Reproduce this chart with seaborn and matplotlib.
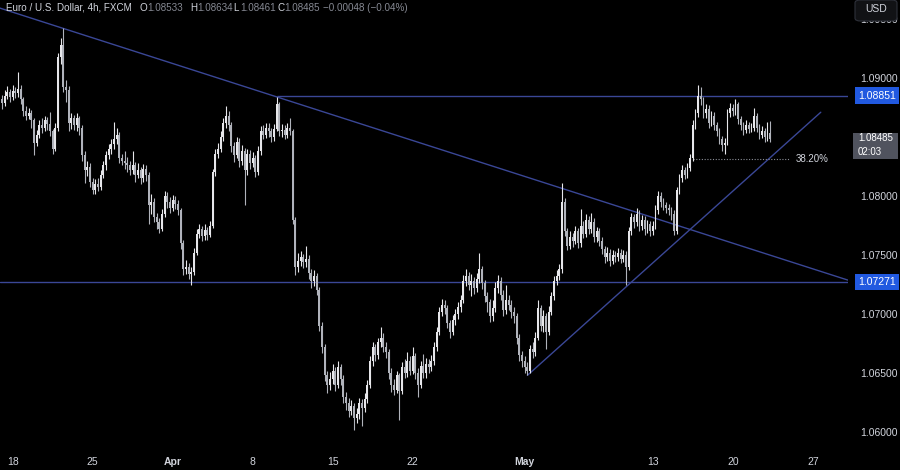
import matplotlib
matplotlib.use("Agg")
import matplotlib.pyplot as plt
import matplotlib.transforms as mtransforms
from matplotlib.patches import Rectangle, FancyBboxPatch
import numpy as np
import seaborn as sns


# DADOS (EUR/USD 4h, FXCM)

first_open = 1.0882

closes = [
    1.0879, 1.0885, 1.0888, 1.0884, 1.0889, 1.0887, 1.0891, 1.0882, 1.0872, 1.0868,
    1.0870, 1.0864, 1.0845, 1.0852, 1.0860, 1.0858, 1.0864, 1.0861, 1.0855, 1.0840,
    1.0858, 1.0918, 1.0928, 1.0892, 1.0890, 1.0862, 1.0866, 1.0860, 1.0866, 1.0858,
    1.0835, 1.0822, 1.0825, 1.0812, 1.0805, 1.0810, 1.0808, 1.0818, 1.0826, 1.0835,
    1.0840, 1.0844, 1.0848, 1.0852, 1.0832, 1.0830, 1.0828, 1.0826, 1.0822, 1.0826,
    1.0818, 1.0822, 1.0815, 1.0823, 1.0818, 1.0792, 1.0795, 1.0782, 1.0778, 1.0772,
    1.0785, 1.0800, 1.0795, 1.0790, 1.0797, 1.0793, 1.0788, 1.0760, 1.0738, 1.0740,
    1.0734, 1.0736, 1.0752, 1.0768, 1.0772, 1.0766, 1.0771, 1.0767, 1.0775, 1.0820,
    1.0836, 1.0840, 1.0850, 1.0862, 1.0868, 1.0860, 1.0842, 1.0835, 1.0846, 1.0830,
    1.0838, 1.0822, 1.0836, 1.0828, 1.0832, 1.0820, 1.0838, 1.0855, 1.0852, 1.0858,
    1.0855, 1.0850, 1.0857, 1.0878, 1.0855, 1.0856, 1.0852, 1.0858, 1.0855, 1.0780,
    1.0740, 1.0745, 1.0748, 1.0744, 1.0747, 1.0735, 1.0728, 1.0732, 1.0720, 1.0690,
    1.0672, 1.0648, 1.0640, 1.0645, 1.0652, 1.0640, 1.0655, 1.0645, 1.0630, 1.0625,
    1.0618, 1.0622, 1.0612, 1.0615, 1.0625, 1.0620, 1.0628, 1.0640, 1.0660, 1.0672,
    1.0665, 1.0676, 1.0680, 1.0672, 1.0668, 1.0650, 1.0640, 1.0636, 1.0648, 1.0635,
    1.0655, 1.0650, 1.0660, 1.0652, 1.0664, 1.0650, 1.0640, 1.0656, 1.0650, 1.0658,
    1.0655, 1.0660, 1.0672, 1.0685, 1.0702, 1.0708, 1.0705, 1.0692, 1.0685, 1.0695,
    1.0700, 1.0706, 1.0712, 1.0728, 1.0732, 1.0725, 1.0728, 1.0722, 1.0730, 1.0738,
    1.0726, 1.0715, 1.0710, 1.0698, 1.0705, 1.0722, 1.0728, 1.0716, 1.0703, 1.0712,
    1.0708, 1.0702, 1.0698, 1.0680, 1.0665, 1.0660, 1.0655, 1.0652, 1.0670, 1.0668,
    1.0680, 1.0705, 1.0690, 1.0698, 1.0685, 1.0702, 1.0715, 1.0728, 1.0732, 1.0738,
    1.0795, 1.0770, 1.0758, 1.0765, 1.0762, 1.0770, 1.0760, 1.0775, 1.0768, 1.0780,
    1.0772, 1.0778, 1.0765, 1.0770, 1.0762, 1.0755, 1.0748, 1.0752, 1.0745, 1.0750,
    1.0748, 1.0752, 1.0747, 1.0750, 1.0740, 1.0770, 1.0782, 1.0778, 1.0785, 1.0775,
    1.0780, 1.0772, 1.0776, 1.0770, 1.0775, 1.0788, 1.0800, 1.0795, 1.0792, 1.0790,
    1.0788, 1.0785, 1.0770, 1.0805, 1.0815, 1.0822, 1.0818, 1.0824, 1.0832, 1.0860,
    1.0870, 1.0885, 1.0882, 1.0870, 1.0874, 1.0862, 1.0868, 1.0860, 1.0855, 1.0848,
    1.0843, 1.0845, 1.0870, 1.0875, 1.0872, 1.0878, 1.0865, 1.0860, 1.0856, 1.0860,
    1.0857, 1.0858, 1.0868, 1.0858, 1.0852, 1.0855, 1.0850, 1.08533, 1.08485,
]

highs = [
    1.0886, 1.0890, 1.0893, 1.0891, 1.0894, 1.0892, 1.0905, 1.0894, 1.0884, 1.0876,
    1.0875, 1.0873, 1.0866, 1.0856, 1.0864, 1.0866, 1.0868, 1.0867, 1.0871, 1.0857,
    1.0862, 1.0921, 1.0934, 1.0942, 1.0898, 1.0893, 1.0870, 1.0869, 1.0870, 1.0868,
    1.0860, 1.0838, 1.0830, 1.0828, 1.0815, 1.0814, 1.0815, 1.0822, 1.0830, 1.0838,
    1.0844, 1.0848, 1.0863, 1.0858, 1.0854, 1.0836, 1.0838, 1.0833, 1.0830, 1.0838,
    1.0829, 1.0828, 1.0825, 1.0827, 1.0826, 1.0820, 1.0802, 1.0798, 1.0786, 1.0781,
    1.0789, 1.0804, 1.0803, 1.0799, 1.0801, 1.0800, 1.0797, 1.0790, 1.0763, 1.0746,
    1.0743, 1.0740, 1.0756, 1.0772, 1.0776, 1.0775, 1.0776, 1.0774, 1.0779, 1.0823,
    1.0840, 1.0845, 1.0855, 1.0866, 1.0876, 1.0872, 1.0863, 1.0846, 1.0850, 1.0849,
    1.0843, 1.0841, 1.0840, 1.0839, 1.0837, 1.0835, 1.0842, 1.0859, 1.0860, 1.0862,
    1.0862, 1.0858, 1.0861, 1.0884, 1.0880, 1.0861, 1.0860, 1.0862, 1.0866, 1.0857,
    1.0782, 1.0752, 1.0753, 1.0751, 1.0758, 1.0750, 1.0738, 1.0737, 1.0735, 1.0723,
    1.0693, 1.0675, 1.0652, 1.0651, 1.0658, 1.0655, 1.0660, 1.0658, 1.0648, 1.0634,
    1.0629, 1.0627, 1.0625, 1.0620, 1.0629, 1.0628, 1.0633, 1.0644, 1.0664, 1.0676,
    1.0675, 1.0680, 1.0689, 1.0684, 1.0676, 1.0670, 1.0654, 1.0645, 1.0652, 1.0650,
    1.0659, 1.0662, 1.0668, 1.0664, 1.0672, 1.0667, 1.0654, 1.0660, 1.0666, 1.0663,
    1.0662, 1.0665, 1.0676, 1.0689, 1.0706, 1.0713, 1.0712, 1.0708, 1.0695, 1.0699,
    1.0704, 1.0710, 1.0716, 1.0733, 1.0738, 1.0736, 1.0734, 1.0731, 1.0735, 1.0752,
    1.0741, 1.0729, 1.0719, 1.0713, 1.0712, 1.0727, 1.0733, 1.0731, 1.0720, 1.0725,
    1.0716, 1.0712, 1.0706, 1.0701, 1.0683, 1.0669, 1.0664, 1.0659, 1.0674, 1.0676,
    1.0685, 1.0712, 1.0708, 1.0703, 1.0701, 1.0707, 1.0719, 1.0732, 1.0737, 1.0742,
    1.0811, 1.0798, 1.0773, 1.0770, 1.0769, 1.0775, 1.0773, 1.0789, 1.0779, 1.0785,
    1.0783, 1.0786, 1.0781, 1.0774, 1.0773, 1.0765, 1.0758, 1.0757, 1.0755, 1.0754,
    1.0753, 1.0756, 1.0755, 1.0754, 1.0753, 1.0774, 1.0786, 1.0785, 1.0790, 1.0788,
    1.0784, 1.0783, 1.0780, 1.0779, 1.0779, 1.0792, 1.0804, 1.0803, 1.0798, 1.0795,
    1.0793, 1.0791, 1.0788, 1.0808, 1.0819, 1.0826, 1.0825, 1.0828, 1.0836, 1.0864,
    1.0874, 1.0894, 1.0892, 1.0884, 1.0878, 1.0877, 1.0872, 1.0871, 1.0863, 1.0858,
    1.0851, 1.0849, 1.0874, 1.0879, 1.0878, 1.0882, 1.0880, 1.0868, 1.0863, 1.0864,
    1.0863, 1.0862, 1.0875, 1.0870, 1.0861, 1.0859, 1.0858, 1.0863, 1.08634,
]

lows = [
    1.0874, 1.0876, 1.0882, 1.0880, 1.0881, 1.0883, 1.0884, 1.0878, 1.0868, 1.0864,
    1.0865, 1.0858, 1.0835, 1.0842, 1.0849, 1.0853, 1.0855, 1.0856, 1.0851, 1.0836,
    1.0838, 1.0855, 1.0912, 1.0888, 1.0880, 1.0855, 1.0857, 1.0856, 1.0855, 1.0852,
    1.0830, 1.0811, 1.0817, 1.0808, 1.0802, 1.0802, 1.0804, 1.0805, 1.0815, 1.0822,
    1.0831, 1.0836, 1.0840, 1.0844, 1.0828, 1.0826, 1.0823, 1.0820, 1.0818, 1.0819,
    1.0812, 1.0815, 1.0810, 1.0812, 1.0813, 1.0776, 1.0785, 1.0778, 1.0772, 1.0769,
    1.0770, 1.0782, 1.0790, 1.0786, 1.0787, 1.0789, 1.0784, 1.0755, 1.0733, 1.0734,
    1.0730, 1.0725, 1.0733, 1.0750, 1.0764, 1.0762, 1.0763, 1.0763, 1.0765, 1.0773,
    1.0817, 1.0832, 1.0837, 1.0847, 1.0858, 1.0855, 1.0837, 1.0829, 1.0832, 1.0825,
    1.0826, 1.0792, 1.0818, 1.0823, 1.0825, 1.0816, 1.0818, 1.0835, 1.0848, 1.0849,
    1.0850, 1.0846, 1.0847, 1.0855, 1.0851, 1.0850, 1.0848, 1.0849, 1.0852, 1.0776,
    1.0733, 1.0736, 1.0741, 1.0739, 1.0740, 1.0730, 1.0722, 1.0724, 1.0716, 1.0686,
    1.0667, 1.0643, 1.0633, 1.0636, 1.0641, 1.0635, 1.0637, 1.0640, 1.0625, 1.0619,
    1.0613, 1.0614, 1.0602, 1.0608, 1.0611, 1.0605, 1.0617, 1.0625, 1.0637, 1.0656,
    1.0660, 1.0662, 1.0672, 1.0668, 1.0663, 1.0645, 1.0634, 1.0631, 1.0633, 1.0610,
    1.0632, 1.0646, 1.0647, 1.0648, 1.0649, 1.0645, 1.0630, 1.0637, 1.0646, 1.0646,
    1.0650, 1.0652, 1.0657, 1.0669, 1.0682, 1.0698, 1.0700, 1.0688, 1.0680, 1.0682,
    1.0691, 1.0696, 1.0702, 1.0709, 1.0724, 1.0720, 1.0715, 1.0717, 1.0719, 1.0726,
    1.0721, 1.0710, 1.0702, 1.0693, 1.0694, 1.0702, 1.0718, 1.0712, 1.0698, 1.0700,
    1.0703, 1.0697, 1.0692, 1.0675, 1.0660, 1.0655, 1.0650, 1.0648, 1.0650, 1.0663,
    1.0664, 1.0678, 1.0686, 1.0685, 1.0670, 1.0682, 1.0699, 1.0712, 1.0725, 1.0729,
    1.0735, 1.0766, 1.0754, 1.0755, 1.0757, 1.0759, 1.0756, 1.0757, 1.0764, 1.0765,
    1.0768, 1.0769, 1.0761, 1.0761, 1.0758, 1.0751, 1.0743, 1.0745, 1.0741, 1.0742,
    1.0744, 1.0745, 1.0743, 1.0744, 1.0725, 1.0737, 1.0767, 1.0773, 1.0775, 1.0770,
    1.0771, 1.0767, 1.0769, 1.0766, 1.0767, 1.0772, 1.0785, 1.0791, 1.0788, 1.0786,
    1.0784, 1.0780, 1.0767, 1.0768, 1.0802, 1.0812, 1.0814, 1.0815, 1.0821, 1.0830,
    1.0857, 1.0867, 1.0877, 1.0866, 1.0866, 1.0858, 1.0859, 1.0856, 1.0851, 1.0844,
    1.0838, 1.0836, 1.0843, 1.0867, 1.0868, 1.0869, 1.0861, 1.0856, 1.0852, 1.0853,
    1.0853, 1.0854, 1.0855, 1.0854, 1.0848, 1.0849, 1.0846, 1.0847, 1.08461,
]

# eixo de datas (indice da barra de 4h onde cai cada rótulo)
date_ticks = [4, 34, 64, 94, 124, 154, 196, 244, 274, 304]
date_labels = ["18", "25", "Apr", "8", "15", "22", "May", "13", "20", "27"]
month_labels = ["Apr", "May"]

# 1.08500 fica escondido atrás do rótulo do último preço
price_ticks = [1.060, 1.065, 1.070, 1.075, 1.080, 1.090, 1.095]

# níveis e linhas de tendência
resistance = 1.08851
support = 1.07271
fib_level = 1.0831
fib_text = "38.20%"
down_trend = [(23, 1.0942), (103, 1.0884)]
up_trend = [(197, 1.0648), (307, 1.0871)]

header = "Euro / U.S. Dollar, 4h, FXCM"
ohlc_names = ["O", "H", "L", "C"]
ohlc_values = ["1.08533", "1.08634", "1.08461", "1.08485"]
change_text = "\u22120.00048 (\u22120.04%)"
countdown = "02:03"

assert len(closes) == len(highs) == len(lows)


# ESTILO

sns.set_theme(style="dark", rc={"axes.facecolor": "black", "figure.facecolor": "black"})
plt.rcParams["font.family"] = ["Liberation Sans", "DejaVu Sans"]

fg = "#d1d4dc"
dim = "#868993"
line_col = "#3a4796"
blue = "#2159e0"

fig = plt.figure(figsize=(9, 4.7), dpi=100)
ax = fig.add_axes([0, 23 / 470, 848 / 900, 447 / 470])
ax.set_facecolor("black")
for s in ax.spines.values():
    s.set_visible(False)

n = len(closes)
x = np.arange(n)
opens = np.array([first_open] + closes[:-1])
c = np.array(closes)
up = c >= opens
colors = np.where(up, "#e6e6ea", "#b0b3bb")

# pavios e corpos
ax.vlines(x, lows, highs, colors=colors, lw=0.8, zorder=3)
body_lo = np.minimum(opens, c)
body_h = np.maximum(np.abs(c - opens), 0.00009)
ax.bar(x, body_h, bottom=body_lo, width=0.7, color=colors, linewidth=0, zorder=4)

ylo, yhi = 1.05873, 1.09661
xmin, xmax = -0.75, 317.2
ax.set_xlim(xmin, xmax)
ax.set_ylim(ylo, yhi)

# linhas desenhadas
ax.axline(down_trend[0], down_trend[1], color=line_col, lw=1, zorder=2)
ax.hlines(resistance, down_trend[1][0], xmax, color=line_col, lw=1, zorder=2)
ax.axhline(support, color=line_col, lw=1, zorder=2)
sns.lineplot(x=[p[0] for p in up_trend], y=[p[1] for p in up_trend], ax=ax,
             color=line_col, lw=1, zorder=2)
ax.hlines(fib_level, 259, 295.5, color="#8a8d96", lw=0.8, linestyles=(0, (1, 1.5)), zorder=2)
ax.text(297.5, fib_level, fib_text, color=fg, fontsize=7, va="center", ha="left")

# eixo de preços à direita
ax.yaxis.tick_right()
ax.set_yticks(price_ticks)
ax.set_yticklabels([f"{p:.5f}" for p in price_ticks])
ax.tick_params(axis="y", length=0, pad=9, labelsize=7.5, labelcolor=fg)
ax.set_xticks(date_ticks)
ax.set_xticklabels(date_labels)
ax.tick_params(axis="x", length=0, pad=7, labelsize=7.5, labelcolor=fg)
for t in ax.get_xticklabels():
    if t.get_text() in month_labels:
        t.set_fontweight("bold")
ax.grid(False)

# caixas de preço
tr = mtransforms.blended_transform_factory(fig.transFigure, ax.transData)
for lvl in [resistance, support]:
    ax.text(858 / 900, lvl, f"{lvl:.5f}", transform=tr, color="white", fontsize=7.5,
            ha="left", va="center",
            bbox=dict(boxstyle="square,pad=0.3", fc=blue, ec="none"), zorder=6)

last = closes[-1]
px = (yhi - ylo) / 447
ax.add_patch(Rectangle((853 / 900, last - 20 * px), 45 / 900, 26 * px, transform=tr,
                       fc="#50535e", ec="none", clip_on=False, zorder=5))
ax.text(858 / 900, last + 0.5 * px, f"{last:.5f}", transform=tr, color="white", fontsize=7,
        ha="left", va="center", zorder=6)
ax.text(858 / 900, last - 13 * px, countdown, transform=tr, color="white", fontsize=7,
        ha="left", va="center", zorder=6)

# caixa USD
usd = FancyBboxPatch((855 / 900, 449 / 470), 42 / 900, 21 / 470,
                     boxstyle="round,pad=0,rounding_size=0.006",
                     transform=fig.transFigure, fc="#111215", ec="#2e313a", lw=0.8, zorder=10)
fig.add_artist(usd)
fig.text(876 / 900, 461 / 470, "USD", color=fg, fontsize=7.5, ha="center", va="center", zorder=11)

# cabeçalho
ty = 1 - 8 / 470
fig.text(6 / 900, ty, header, color=fg, fontsize=7.1, va="center")
name_x = [140, 190, 233, 277]
for nm, val, nx in zip(ohlc_names, ohlc_values, name_x):
    fig.text(nx / 900, ty, nm, color=fg, fontsize=7.1, va="center")
    fig.text((nx + 7) / 900, ty, val, color=dim, fontsize=7.1, va="center")
fig.text(323 / 900, ty, change_text, color=dim, fontsize=7.1, va="center")

plt.savefig("out.png", dpi=100, facecolor="black")
